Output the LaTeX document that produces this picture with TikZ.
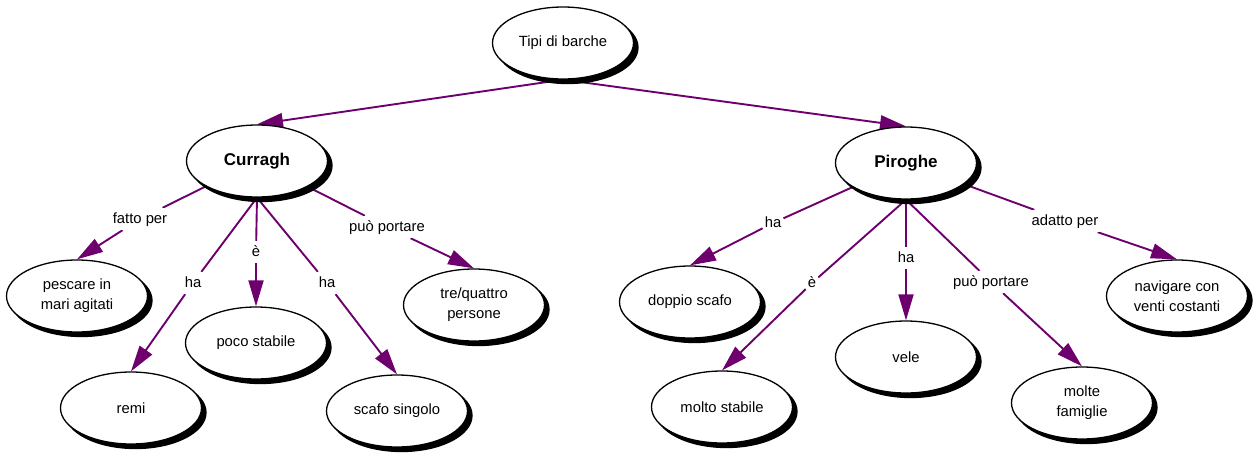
\documentclass[tikz,border=0pt]{standalone}
\usepackage{fontspec}
\setmainfont{Liberation Sans}
\usetikzlibrary{shapes.geometric,arrows.meta,shadows}
\definecolor{connc}{RGB}{110,0,110}
\pgfdeclarelayer{bg}
\pgfsetlayers{bg,main}
\begin{document}
\begin{tikzpicture}[x=1pt,y=-1pt,
  concept/.style={ellipse, draw=black, line width=1.3pt, fill=white,
    minimum width=141pt, minimum height=72pt, inner sep=0pt, align=center,
    font=\fontsize{14.8}{20}\selectfont,
    general shadow={fill=black, draw=black, shadow xshift=4.5pt, shadow yshift=-4.5pt}},
  bold/.style={font=\fontsize{17}{20}\selectfont\bfseries},
  link/.style={fill=white, inner xsep=2pt, inner ysep=4pt, text height=11pt,
    text depth=3pt, font=\fontsize{14.8}{18}\selectfont},
  conn/.style={draw=connc, line width=1.9pt},
  arr/.style={conn, -{Triangle[length=26pt,width=15pt]}, fill=connc}
]
\useasboundingbox (0,0) rectangle (1255,455);

% concepts
\node[concept] (tipi) at (563,43) {Tipi di barche};
\node[concept, bold] (cur) at (257,161) {Curragh};
\node[concept, bold] (pir) at (906,163) {Piroghe};
\node[concept] (pesc) at (77,296) {pescare in\\mari agitati};
\node[concept] (remi) at (131,408) {remi};
\node[concept] (poco) at (256,343) {poco stabile};
\node[concept] (scafo) at (397,411) {scafo singolo};
\node[concept] (tre) at (474,305) {tre/quattro\\persone};
\node[concept] (dop) at (690,302) {doppio scafo};
\node[concept] (molto) at (722,407) {molto stabile};
\node[concept] (vele) at (906,357) {vele};
\node[concept] (molte) at (1082,403) {molte\\famiglie};
\node[concept] (nav) at (1177,296) {navigare con\\venti costanti};

% linking phrases
\node[link] (l1) at (140,219) {fatto per};
\node[link] (l2) at (193,283) {ha};
\node[link] (l3) at (256,252) {è};
\node[link] (l4) at (327,283) {ha};
\node[link] (l5) at (387,227) {può portare};
\node[link] (l6) at (773,223) {ha};
\node[link] (l7) at (812,283) {è};
\node[link] (l8) at (906,258) {ha};
\node[link] (l9) at (991,282) {può portare};
\node[link] (l10) at (1065,221) {adatto per};

\begin{pgfonlayer}{bg}
\draw[arr] (tipi.south) -- (cur.north);
\draw[arr] (tipi.south) -- (pir.north);

\draw[conn] (cur) -- (l1);       \draw[arr] (l1) -- (pesc.north);
\draw[conn] (cur.south) -- (l2); \draw[arr] (l2) -- (remi.north);
\draw[conn] (cur.south) -- (l3); \draw[arr] (l3) -- (poco.north);
\draw[conn] (cur.south) -- (l4); \draw[arr] (l4) -- (scafo.north);
\draw[conn] (cur) -- (l5);       \draw[arr] (l5) -- (tre.north);

\draw[conn] (pir) -- (l6);       \draw[arr] (l6) -- (dop.north);
\draw[conn] (pir.south) -- (l7); \draw[arr] (l7) -- (molto.north);
\draw[conn] (pir.south) -- (l8); \draw[arr] (l8) -- (vele.north);
\draw[conn] (pir.south) -- (l9); \draw[arr] (l9) -- (molte.north);
\draw[conn] (pir) -- (l10);      \draw[arr] (l10) -- (nav.north);
\end{pgfonlayer}
\end{tikzpicture}
\end{document}
